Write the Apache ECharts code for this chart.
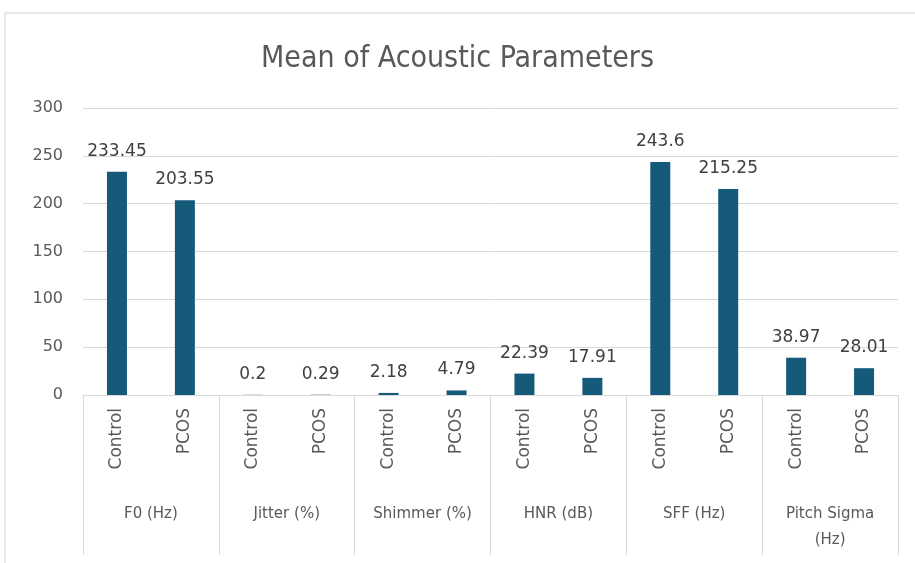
<!DOCTYPE html>
<html>
<head>
<meta charset="utf-8">
<script src="https://cdn.jsdelivr.net/npm/echarts@6/dist/echarts.min.js"></script>
<style>
  html, body { margin: 0; padding: 0; background: #fff; }
  #chart { width: 915px; height: 563px; }
</style>
</head>
<body>
<div id="chart"></div>
<script>
// groups on the lower axis level, one label per pair of bars
const groups = ['F0 (Hz)', 'Jitter (%)', 'Shimmer (%)', 'HNR (dB)', 'SFF (Hz)', 'Pitch Sigma\n(Hz)'];
const subjects = ['Control', 'PCOS'];
// means, in order Control/PCOS for each group
const meanValues = [233.45, 203.55, 0.2, 0.29, 2.18, 4.79, 22.39, 17.91, 243.6, 215.25, 38.97, 28.01];
const yTicks = [0, 50, 100, 150, 200, 250, 300];

const categories = [];
groups.forEach(() => subjects.forEach((s) => categories.push(s)));

const gray = '#595959';
const lineGray = '#d9d9d9';

const chart = echarts.init(document.getElementById('chart'));
chart.setOption({
  backgroundColor: '#fff',
  textStyle: { fontFamily: 'DejaVu Sans, sans-serif' },
  title: {
    text: 'Mean of Acoustic Parameters',
    left: 'center',
    top: 39,
    textStyle: { fontSize: 30, fontWeight: 'normal', color: gray, fontFamily: 'DejaVu Sans Condensed, DejaVu Sans, sans-serif' },
  },
  graphic: [
    {
      type: 'polyline',
      shape: { points: [[5, 570], [5, 13], [920, 13]] },
      style: { stroke: '#d0d0d0', lineWidth: 1, fill: null },
    },
  ],
  grid: { left: 83, right: 17, top: 108, bottom: 168 },
  xAxis: [
    {
      type: 'category',
      data: categories,
      axisLine: { show: true, lineStyle: { color: lineGray } },
      axisTick: { show: false },
      axisLabel: { rotate: 90, interval: 0, fontSize: 17, color: gray, margin: 13 },
    },
    {
      type: 'category',
      data: groups,
      position: 'bottom',
      axisLine: { show: true, lineStyle: { color: lineGray } },
      axisTick: { show: true, length: 160, interval: 0, lineStyle: { color: lineGray } },
      axisLabel: { interval: 0, fontSize: 15, color: gray, margin: 106, lineHeight: 26 },
    },
  ],
  yAxis: {
    type: 'value',
    min: yTicks[0],
    max: yTicks[yTicks.length - 1],
    interval: 50,
    axisLine: { show: false },
    axisTick: { show: false },
    axisLabel: { fontSize: 16, color: gray, margin: 20 },
    splitLine: { lineStyle: { color: lineGray } },
  },
  series: [
    {
      type: 'bar',
      xAxisIndex: 0,
      data: meanValues,
      barWidth: 20,
      itemStyle: { color: '#165a7a' },
      label: { show: true, position: 'top', distance: 12, fontSize: 17, color: '#404040' },
    },
  ],
});
</script>
</body>
</html>
